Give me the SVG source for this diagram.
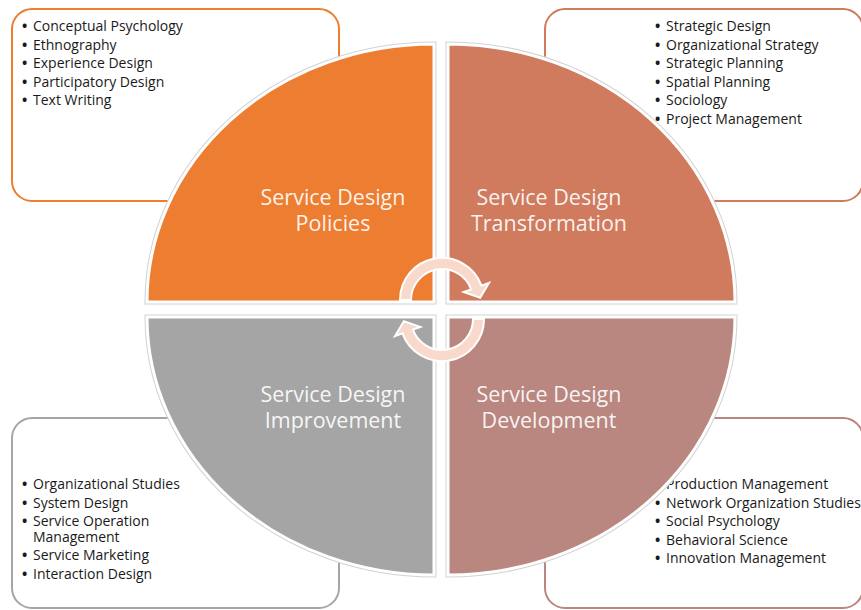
<svg xmlns="http://www.w3.org/2000/svg" width="861" height="610" viewBox="0 0 861 610">
<style>
.box{fill:#fff;stroke-width:2}
.item{font-family:"Open Sans","Liberation Sans",sans-serif;font-size:14px;fill:#1a1a1a}
.b{font-weight:bold}
.lbl{font-family:"Open Sans","Liberation Sans",sans-serif;font-size:21.5px;fill:#fff;fill-opacity:0.92;text-anchor:middle}
.halo{fill:none;stroke:#d2d2d2;stroke-width:5}
.q{stroke:#fff;stroke-width:3}
.arr{fill:#F8D9CC;stroke:#fff;stroke-width:2;stroke-linejoin:miter}
</style>
<rect width="861" height="610" fill="#fff"/>

<g id="box-policies">
<rect class="box" x="12" y="9" width="327" height="192" rx="20" stroke="#ED7D31"/>
<text class="item" y="31"><tspan class="b" x="22">•</tspan><tspan x="33">Conceptual Psychology</tspan></text>
<text class="item" y="49.5"><tspan class="b" x="22">•</tspan><tspan x="33">Ethnography</tspan></text>
<text class="item" y="68"><tspan class="b" x="22">•</tspan><tspan x="33">Experience Design</tspan></text>
<text class="item" y="86.5"><tspan class="b" x="22">•</tspan><tspan x="33">Participatory Design</tspan></text>
<text class="item" y="105"><tspan class="b" x="22">•</tspan><tspan x="33">Text Writing</tspan></text>
</g>

<g id="box-transformation">
<rect class="box" x="545" y="9" width="318" height="192" rx="20" stroke="#D07A5E"/>
<text class="item" y="31"><tspan class="b" x="655">•</tspan><tspan x="666">Strategic Design</tspan></text>
<text class="item" y="49.5"><tspan class="b" x="655">•</tspan><tspan x="666">Organizational Strategy</tspan></text>
<text class="item" y="68"><tspan class="b" x="655">•</tspan><tspan x="666">Strategic Planning</tspan></text>
<text class="item" y="86.5"><tspan class="b" x="655">•</tspan><tspan x="666">Spatial Planning</tspan></text>
<text class="item" y="105"><tspan class="b" x="655">•</tspan><tspan x="666">Sociology</tspan></text>
<text class="item" y="123.5"><tspan class="b" x="655">•</tspan><tspan x="666">Project Management</tspan></text>
</g>

<g id="box-improvement">
<rect class="box" x="12" y="418" width="327" height="190" rx="20" stroke="#A5A5A5"/>
<text class="item" y="489"><tspan class="b" x="22">•</tspan><tspan x="33">Organizational Studies</tspan></text>
<text class="item" y="507.5"><tspan class="b" x="22">•</tspan><tspan x="33">System Design</tspan></text>
<text class="item" y="526"><tspan class="b" x="22">•</tspan><tspan x="33">Service Operation</tspan></text>
<text class="item" y="542"><tspan x="33">Management</tspan></text>
<text class="item" y="560"><tspan class="b" x="22">•</tspan><tspan x="33">Service Marketing</tspan></text>
<text class="item" y="578.5"><tspan class="b" x="22">•</tspan><tspan x="33">Interaction Design</tspan></text>
</g>

<g id="box-development">
<rect class="box" x="545" y="418" width="318" height="190" rx="20" stroke="#B9877F"/>
<text class="item" y="489"><tspan class="b" x="655">•</tspan><tspan x="666">Production Management</tspan></text>
<text class="item" y="507.5"><tspan class="b" x="655">•</tspan><tspan x="666">Network Organization Studies</tspan></text>
<text class="item" y="526"><tspan class="b" x="655">•</tspan><tspan x="666">Social Psychology</tspan></text>
<text class="item" y="544.5"><tspan class="b" x="655">•</tspan><tspan x="666">Behavioral Science</tspan></text>
<text class="item" y="563"><tspan class="b" x="655">•</tspan><tspan x="666">Innovation Management</tspan></text>
</g>

<g id="q-policies">
<path class="halo" d="M434,302 L147,302 A287 258 0 0 1 434,44 Z"/>
<path class="q" fill="#ED7D31" d="M434,302 L147,302 A287 258 0 0 1 434,44 Z"/>
<text class="lbl" x="333" y="205">Service Design</text>
<text class="lbl" x="333" y="231">Policies</text>
</g>

<g id="q-transformation">
<path class="halo" d="M448,302 L448,44 A287 258 0 0 1 735,302 Z"/>
<path class="q" fill="#D07A5E" d="M448,302 L448,44 A287 258 0 0 1 735,302 Z"/>
<text class="lbl" x="549" y="205">Service Design</text>
<text class="lbl" x="549" y="231">Transformation</text>
</g>

<g id="q-improvement">
<path class="halo" d="M434,317 L434,575 A287 258 0 0 1 147,317 Z"/>
<path class="q" fill="#A5A5A5" d="M434,317 L434,575 A287 258 0 0 1 147,317 Z"/>
<text class="lbl" x="333" y="402">Service Design</text>
<text class="lbl" x="333" y="428">Improvement</text>
</g>

<g id="q-development">
<path class="halo" d="M448,317 L735,317 A287 258 0 0 1 448,575 Z"/>
<path class="q" fill="#B9877F" d="M448,317 L735,317 A287 258 0 0 1 448,575 Z"/>
<text class="lbl" x="549" y="402">Service Design</text>
<text class="lbl" x="549" y="428">Development</text>
</g>

<g id="connectors">
<path class="arr" d="M400,300 A42 42 0 0 1 481.5,285.6 L489,282.9 L480.1,297.8 L463.6,292.1 L471.1,289.4 A31 31 0 0 0 411,300 Z"/>
<path class="arr" transform="rotate(180 442 309.5)" d="M400,300 A42 42 0 0 1 481.5,285.6 L489,282.9 L480.1,297.8 L463.6,292.1 L471.1,289.4 A31 31 0 0 0 411,300 Z"/>
</g>
</svg>
